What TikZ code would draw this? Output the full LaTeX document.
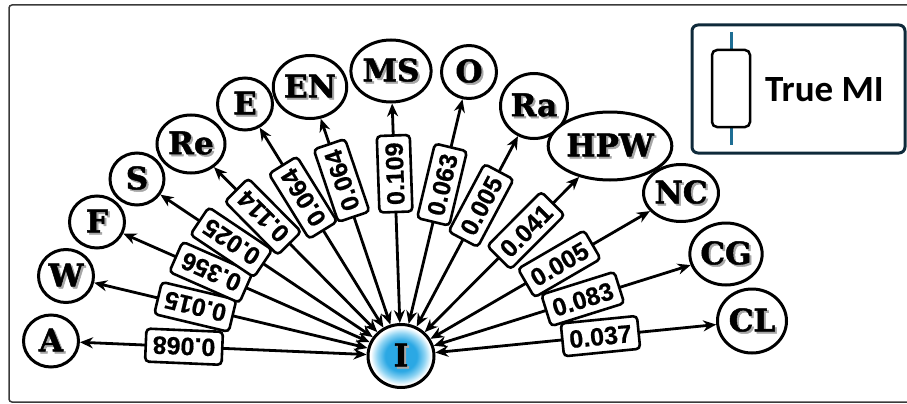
\documentclass[tikz,border=0pt]{standalone}
\usepackage{fontspec}
\setmainfont{DejaVu Serif}
\newfontfamily\nodefont{DejaVu Serif}[BoldFeatures={FakeBold=1.6}]
\newfontfamily\lblfont{Liberation Sans}[BoldFeatures={FakeBold=0.6}]
\newfontfamily\legfont{Carlito}
\usetikzlibrary{shapes.geometric,arrows.meta}

\definecolor{frameGray}{HTML}{3A3A3A}
\definecolor{legNavy}{HTML}{0F2A3A}
\definecolor{legBlue}{HTML}{1E6E94}
\definecolor{iBlue}{HTML}{2BA8E4}
\definecolor{iBlueMid}{HTML}{8FD4F3}

\pgfdeclareradialshading{iglow}{\pgfpoint{0bp}{0bp}}{color(0bp)=(iBlue); color(12bp)=(iBlue); color(18bp)=(iBlueMid); color(23bp)=(white); color(50bp)=(white)}

\newcommand\shd[1]{\makebox[0pt][l]{\hspace{2pt}\raisebox{-2pt}{\textcolor{black!35}{#1}}}#1}

\tikzset{
  vnode/.style={ellipse, draw=black, line width=3pt, fill=white, inner sep=0pt,
    font=\nodefont\fontsize{31}{34}\selectfont\bfseries},
  wt/.style={draw=black, line width=2.6pt, fill=white, rounded corners=4pt,
    font=\lblfont\fontsize{25}{27}\selectfont\bfseries, inner xsep=7pt, inner ysep=7.5pt,
    text height=18pt, text depth=0pt, sloped, allow upside down},
  link/.style={line width=2.8pt, {Stealth[length=13pt,width=11pt]}-{Stealth[length=13pt,width=11pt]}},
}

\begin{document}
\begin{tikzpicture}[x=1pt,y=-1pt]
\useasboundingbox (0,0) rectangle (907,404);
\draw[frameGray, line width=1.5pt, rounded corners=3pt] (9,5) rectangle (915,402);

% nodes
\node[vnode, minimum width=66pt, minimum height=63pt, shading=iglow] (I) at (401,356) {\shd{I}};
\node[vnode, minimum width=55pt, minimum height=52pt] (A) at (51,341) {\shd{A}};
\node[vnode, minimum width=55pt, minimum height=53pt] (W) at (66,276) {\shd{W}};
\node[vnode, minimum width=55pt, minimum height=52pt] (F) at (97,222) {\shd{F}};
\node[vnode, minimum width=54pt, minimum height=52pt] (S) at (137,179) {\shd{S}};
\node[vnode, minimum width=68pt, minimum height=58pt] (Re) at (191,144) {\shd{Re}};
\node[vnode, minimum width=55pt, minimum height=52pt] (E) at (245,104) {\shd{E}};
\node[vnode, minimum width=67pt, minimum height=63pt] (EN) at (310,87) {\shd{EN}};
\node[vnode, minimum width=68pt, minimum height=62pt] (MS) at (391,71) {\shd{MS}};
\node[vnode, minimum width=55pt, minimum height=53pt] (O) at (469,72) {\shd{O}};
\node[vnode, minimum width=67pt, minimum height=65pt] (Ra) at (534,106) {\shd{Ra}};
\node[vnode, minimum width=99pt, minimum height=68pt] (HPW) at (610,146) {\shd{HPW}};
\node[vnode, minimum width=68pt, minimum height=57pt] (NC) at (681,193) {\shd{NC}};
\node[vnode, minimum width=67pt, minimum height=62pt] (CG) at (726,254) {\shd{CG}};
\node[vnode, minimum width=69pt, minimum height=64pt] (CL) at (752,321) {\shd{CL}};

% connectors
\foreach \n in {A,W,F,S,Re,E,EN,MS,O,Ra,HPW,NC,CG,CL}
  \draw[link] (I) -- (\n);

% weight labels
\foreach \n/\v/\p in {A/0.068/0.637, W/0.015/0.63, F/0.356/0.644, S/0.025/0.666,
    Re/0.114/0.70, E/0.064/0.65, EN/0.064/0.70, MS/0.109/0.68, O/0.063/0.62,
    Ra/0.005/0.636, HPW/0.041/0.655, NC/0.005/0.587, CG/0.083/0.58, CL/0.037/0.588}
  \path (I) -- node[wt, pos=\p] {\v} (\n);

% legend
\draw[legNavy, line width=3pt, rounded corners=6pt] (692,25) rectangle (905,153);
\draw[legBlue, line width=3pt] (731,32) -- (731,145);
\draw[black, line width=2.5pt, fill=white, rounded corners=5pt] (712,50) rectangle (750,127);
\node[font=\legfont\bfseries\fontsize{37}{40}\selectfont, anchor=west, inner sep=0pt] (leg) at (765,90) {True MI};
\end{tikzpicture}
\end{document}
